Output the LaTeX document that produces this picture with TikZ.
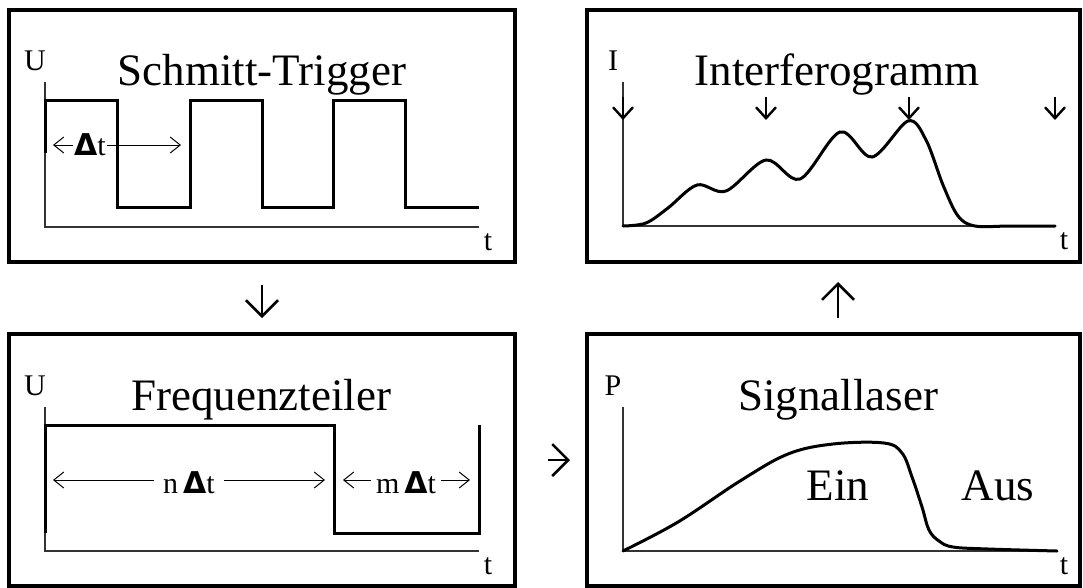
\documentclass[tikz,border=0pt]{standalone}
\usepackage{fontspec}
\setmainfont{Liberation Serif}
\newfontfamily\deltafont{DejaVu Sans}
\usepackage{tikz}
\usepackage{xcolor}
\usetikzlibrary{arrows.meta,calc}
\definecolor{Achse}{HTML}{333333}
\definecolor{Spur}{HTML}{000000}
\newcommand{\deltasym}{{\deltafont\bfseries Δ}}
\newcommand{\achsen}[6]{
  \draw[axisline] (#2,#3) -- (#2,#4) -- (#5,#4);
  \node[lbl, anchor=base] (#1y) at (#2-10,#3-12) {#6};
  \node[lbl, anchor=base] (#1t) at (#5+9,#4+23) {t};
}

\begin{document}
\begin{tikzpicture}[x=1pt, y=-1pt,
    panel/.style={draw=Spur, line width=3.2pt, minimum width=#1, minimum height=252pt, inner sep=0pt, outer sep=0pt},
    axisline/.style={draw=Achse, line width=1.2pt},
    trace/.style={draw=Spur, line width=3pt},
    curve/.style={draw=Spur, line width=3pt, line cap=round},
    lbl/.style={font=\fontsize{30}{36}\selectfont, inner sep=0pt},
    headline/.style={font=\fontsize{45}{54}\selectfont, inner sep=0pt, anchor=base},
    dim/.style={line width=1pt, -{Straight Barb[length=10pt,width=16pt]}},
    peak/.style={line width=2.4pt, -{Straight Barb[length=11pt,width=20pt]}},
    flow/.style={line width=2.5pt, -{Straight Barb[length=16pt,width=32pt]}}]
        \useasboundingbox (0,0) rectangle (1083,587);
        % the four panels
        \node[panel=506pt] (trig) at (262,136) {};
        \node[panel=506pt] (teiler) at (262,460) {};
        \node[panel=493pt] (interf) at (833.5,136) {};
        \node[panel=493pt] (laser) at (833.5,460) {};
        \draw[flow, shorten <=23pt, shorten >=16pt] (trig) -- (teiler);
        \draw[flow, shorten <=33pt, shorten >=17pt] (teiler) -- (laser);
        \draw[flow, shorten <=16pt, shorten >=20pt] ([xshift=4.5pt]laser.north) -- ([xshift=4.5pt]interf.south);

        % Schmitt-Trigger
        \node[headline] (trigname) at (262,85) {Schmitt-Trigger};
        \achsen{trig}{45}{82}{227}{479}{U}
        \draw[trace] (45,153) -- (45,100) -- (117,100) -- (117,207) -- (190,207) -- (190,100)
          -- (262,100) -- (262,207) -- (333,207) -- (333,100) -- (405,100) -- (405,207) -- (479,207);
        \node[lbl, anchor=base, inner xsep=1pt] (dt) at (90,155) {\deltasym t};
        \coordinate (dtL) at (53,145);
        \coordinate (dtR) at (181,145);
        \draw[dim] (dt.west |- dtL) -- (dtL);
        \draw[dim] (dt.east |- dtR) -- (dtR);

        % Frequenzteiler
        \node[headline] (teilername) at (261,410) {Frequenzteiler};
        \achsen{teiler}{45}{407}{551}{479}{U}
        \draw[trace] (45,533) -- (45,425) -- (334,425) -- (334,533) -- (479,533) -- (479,425);
        \node[lbl, anchor=base, inner xsep=9pt] (ndt) at (189,493) {n\,\deltasym t};
        \coordinate (ndtL) at (53,480);
        \coordinate (ndtR) at (325,480);
        \draw[dim] (ndt.west |- ndtL) -- (ndtL);
        \draw[dim] (ndt.east |- ndtR) -- (ndtR);
        \node[lbl, anchor=base, inner xsep=5pt] (mdt) at (406,493) {m\,\deltasym t};
        \coordinate (mdtL) at (343,480);
        \coordinate (mdtR) at (470,480);
        \draw[dim] (mdt.west |- mdtL) -- (mdtL);
        \draw[dim] (mdt.east |- mdtR) -- (mdtR);

        % Interferogramm
        \node[headline] (interfname) at (837,85) {Interferogramm};
        \achsen{interf}{623}{82}{226}{1055}{I}
        \foreach \x in {623,766,909,1055}
          \draw[peak] (\x,97) -- (\x,120);
        \draw[curve] plot[smooth, tension=0.55] coordinates {(623,226) (646,223) (668,208) (697,185)
          (726,191) (766,160) (800,179) (840,132) (872,157) (908,121) (926,140) (943,185)
          (958,216) (975,226) (1010,226) (1055,226)};

        % Signallaser
        \node[headline] (lasername) at (838,410) {Signallaser};
        \achsen{laser}{623}{407}{551}{1055}{P}
        \draw[curve] plot[smooth, tension=0.6] coordinates {(623,551) (678,522) (740,481) (788,454)
          (833,444) (884,443) (902,453) (912,477) (922,507) (929,530) (939,541) (953,547)
          (988,549) (1057,551)};
        \node[headline] (ein) at (838,500) {Ein};
        \node[headline] (aus) at (998,500) {Aus};
      \end{tikzpicture}
\end{document}
